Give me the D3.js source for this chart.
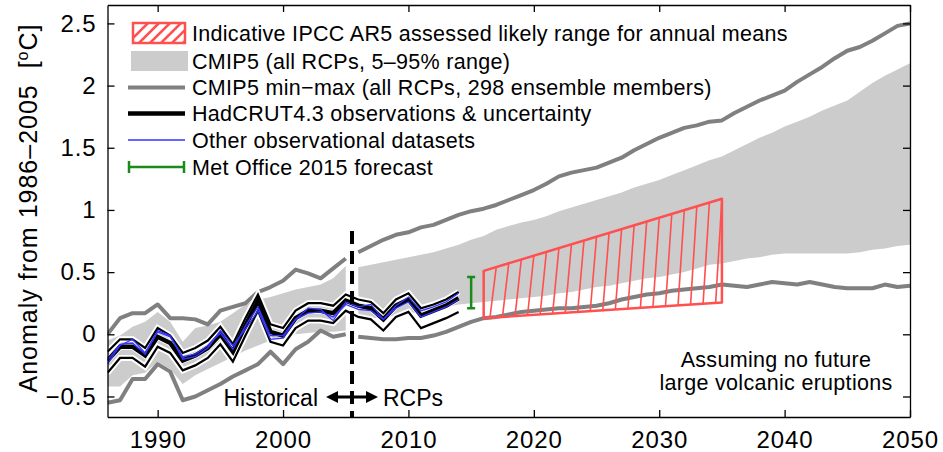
<html>
<head>
<script src="https://d3js.org/d3.v7.min.js"></script>
<style>
body{margin:0;background:#fff;}
text{font-family:"Liberation Sans",Arial,sans-serif;fill:#000;}
.axis path,.axis line{stroke:#000;stroke-width:1.3;}
.axis text{font-size:24px;letter-spacing:0.9px;}
.leg text{font-size:21.5px;letter-spacing:0.3px;}
</style>
</head>
<body>
<script>
var width = 943, height = 452;

// CMIP5 historical runs, 1986-2005
var histYears = d3.range(1986, 2006);
var histLo  = [-0.42,-0.42,-0.33,-0.31,-0.22,-0.28,-0.40,-0.33,-0.28,-0.23,-0.18,-0.13,-0.09,-0.05,-0.02,0.00,0.01,0.02,0.02,0.03];
var histHi  = [-0.05,-0.01,0.06,0.10,0.18,0.10,-0.06,0.05,0.07,0.10,0.17,0.24,0.28,0.30,0.33,0.36,0.38,0.40,0.45,0.55];
var histMin = [-0.55,-0.53,-0.36,-0.36,-0.24,-0.30,-0.53,-0.50,-0.45,-0.40,-0.34,-0.29,-0.24,-0.14,-0.24,-0.12,-0.06,0.03,-0.02,0.00];
var histMax = [0.00,0.13,0.17,0.17,0.24,0.13,0.13,0.12,0.08,0.19,0.22,0.25,0.34,0.38,0.43,0.52,0.49,0.45,0.53,0.61];

// CMIP5 RCP runs, 2006-2050
var rcpYears = d3.range(2006, 2051);
var rcpLo  = [0.12,0.13,0.14,0.15,0.17,0.18,0.20,0.22,0.24,0.25,
              0.26,0.27,0.28,0.29,0.30,0.31,0.33,0.34,0.36,0.38,
              0.39,0.41,0.43,0.45,0.46,0.48,0.50,0.53,0.56,0.57,
              0.59,0.61,0.62,0.64,0.65,0.65,0.65,0.65,0.65,0.65,
              0.66,0.68,0.69,0.71,0.72];
var rcpHi  = [0.54,0.56,0.58,0.60,0.62,0.64,0.66,0.69,0.72,0.76,
              0.79,0.84,0.87,0.90,0.92,0.95,0.99,1.02,1.05,1.08,
              1.11,1.14,1.18,1.21,1.24,1.28,1.32,1.36,1.40,1.43,
              1.48,1.53,1.58,1.62,1.67,1.71,1.75,1.80,1.84,1.88,
              1.95,2.02,2.08,2.13,2.18];
var rcpMin = [-0.02,-0.03,-0.04,-0.04,-0.03,-0.03,-0.01,0.02,0.06,0.10,
              0.13,0.14,0.16,0.18,0.19,0.20,0.21,0.21,0.22,0.23,
              0.25,0.28,0.30,0.32,0.33,0.35,0.36,0.37,0.38,0.40,
              0.39,0.38,0.40,0.42,0.41,0.40,0.42,0.40,0.38,0.37,
              0.37,0.37,0.40,0.38,0.39];
var rcpMax = [0.66,0.71,0.76,0.80,0.82,0.86,0.88,0.92,0.96,0.99,
              1.01,1.04,1.08,1.12,1.16,1.21,1.27,1.30,1.32,1.34,
              1.38,1.42,1.48,1.53,1.58,1.62,1.66,1.68,1.71,1.72,
              1.78,1.83,1.88,1.92,1.96,2.03,2.09,2.15,2.22,2.28,
              2.31,2.36,2.42,2.48,2.50];

// observations, 1986-2014
var obsYears = d3.range(1986, 2015);
var hadcrut  = [-0.21,-0.10,-0.10,-0.17,-0.02,-0.07,-0.21,-0.17,-0.11,0.00,-0.14,0.07,0.27,0.02,-0.01,0.13,0.19,0.19,0.17,0.27,0.23,0.21,0.12,0.23,0.28,0.15,0.19,0.23,0.29];
var hadUpper = [-0.14,-0.04,-0.04,-0.11,0.05,-0.01,-0.15,-0.11,-0.05,0.06,-0.08,0.13,0.32,0.08,0.05,0.19,0.25,0.25,0.23,0.32,0.28,0.26,0.17,0.28,0.33,0.21,0.24,0.28,0.34];
var hadLower = [-0.31,-0.19,-0.19,-0.26,-0.10,-0.15,-0.29,-0.25,-0.19,-0.08,-0.22,-0.01,0.19,-0.06,-0.09,0.05,0.11,0.11,0.09,0.19,0.14,0.12,0.03,0.14,0.18,0.05,0.09,0.13,0.18];
var gistemp  = [-0.24,-0.09,-0.04,-0.15,0.03,-0.01,-0.20,-0.18,-0.11,0.03,-0.09,0.04,0.19,-0.04,-0.03,0.12,0.21,0.20,0.11,0.26,0.22,0.24,0.12,0.23,0.30,0.19,0.22,0.26,0.33];
var noaa     = [-0.21,-0.08,-0.07,-0.16,0.02,-0.02,-0.18,-0.16,-0.09,0.01,-0.12,0.07,0.22,-0.01,-0.01,0.12,0.17,0.18,0.14,0.24,0.20,0.19,0.12,0.21,0.26,0.14,0.18,0.22,0.28];

// IPCC AR5 likely range and Met Office forecast
var ipccYears = [2016, 2035];
var ipccLo = [0.13, 0.255];
var ipccHi = [0.51, 1.09];
var metYear = 2015;
var metRange = [0.21, 0.46];
var splitYear = 2005.5;

var xTicks = [1990, 2000, 2010, 2020, 2030, 2040, 2050];
var yTicks = [-0.5, 0, 0.5, 1, 1.5, 2, 2.5];
var yTickLabels = ["\u22120.5", "0", "0.5", "1", "1.5", "2", "2.5"];

var legendLabels = [
  "Indicative IPCC AR5 assessed likely range for annual means",
  "CMIP5 (all RCPs, 5\u201395% range)",
  "CMIP5 min\u2212max (all RCPs, 298 ensemble members)",
  "HadCRUT4.3 observations & uncertainty",
  "Other observational datasets",
  "Met Office 2015 forecast"
];

var red = "#ff5050", grey = "#cccccc", dark = "#808080", blue = "#3333ff", green = "#1a8a1a";

var svg = d3.select("body").append("svg")
  .attr("width", width)
  .attr("height", height);

var x = d3.scaleLinear().domain([1986, 2050]).range([107.5, 910]);
var y = d3.scaleLinear().domain([-0.665, 2.648]).range([417, 5]);

svg.append("clipPath").attr("id", "plot")
  .append("rect").attr("x", 107.5).attr("y", 5).attr("width", 802.5).attr("height", 412);

var plot = svg.append("g").attr("clip-path", "url(#plot)");

function zip(years, a, b) {
  return years.map(function(t, i){ return {t: t, a: a[i], b: b ? b[i] : null}; });
}

var area = d3.area().x(function(d){ return x(d.t); })
  .y0(function(d){ return y(d.a); }).y1(function(d){ return y(d.b); });
var line = d3.line().x(function(d){ return x(d.t); }).y(function(d){ return y(d.a); });

// 5-95% bands
plot.append("path").datum(zip(histYears, histLo, histHi)).attr("d", area).attr("fill", grey);
plot.append("path").datum(zip(rcpYears, rcpLo, rcpHi)).attr("d", area).attr("fill", grey);

// min-max lines
[[histYears, histMin], [histYears, histMax], [rcpYears, rcpMin], [rcpYears, rcpMax]].forEach(function(s){
  plot.append("path").datum(zip(s[0], s[1])).attr("d", line)
    .attr("fill", "none").attr("stroke", dark).attr("stroke-width", 4)
    .attr("stroke-linejoin", "round");
});

// observations
[hadUpper, hadLower, hadcrut].forEach(function(s){
  plot.append("path").datum(zip(obsYears, s)).attr("d", line)
    .attr("fill", "none").attr("stroke", "#fff").attr("stroke-width", 6);
});
[hadUpper, hadLower].forEach(function(s){
  plot.append("path").datum(zip(obsYears, s)).attr("d", line)
    .attr("fill", "none").attr("stroke", "#000").attr("stroke-width", 2.2);
});
plot.append("path").datum(zip(obsYears, hadcrut)).attr("d", line)
  .attr("fill", "none").attr("stroke", "#000").attr("stroke-width", 4.5);
[gistemp, noaa].forEach(function(s){
  plot.append("path").datum(zip(obsYears, s)).attr("d", line)
    .attr("fill", "none").attr("stroke", blue).attr("stroke-width", 1.3);
});

// historical / RCP split
plot.append("line")
  .attr("x1", x(splitYear)).attr("x2", x(splitYear))
  .attr("y1", y(0.83)).attr("y2", y(-0.665))
  .attr("stroke", "#000").attr("stroke-width", 4).attr("stroke-dasharray", "13,7");

// IPCC hatched trapezoid
var lo = d3.scaleLinear().domain(ipccYears).range(ipccLo);
var hi = d3.scaleLinear().domain(ipccYears).range(ipccHi);
var hatch = d3.range(ipccYears[0] + 0.5, ipccYears[1], 1);
plot.selectAll(".hatch").data(hatch).enter().append("line")
  .attr("x1", function(t){ return x(t); })
  .attr("y1", function(t){ return y(lo(t)); })
  .attr("x2", function(t){ return x(t + 0.5); })
  .attr("y2", function(t){ return y(hi(t + 0.5)); })
  .attr("stroke", red).attr("stroke-width", 1.6);
plot.append("path")
  .attr("d", "M" + [[x(ipccYears[0]), y(ipccLo[0])], [x(ipccYears[0]), y(ipccHi[0])],
                    [x(ipccYears[1]), y(ipccHi[1])], [x(ipccYears[1]), y(ipccLo[1])]].join("L") + "Z")
  .attr("fill", "none").attr("stroke", red).attr("stroke-width", 2.5).attr("stroke-linejoin", "round");

// Met Office forecast
var mx = x(metYear);
plot.append("path")
  .attr("d", "M" + (mx - 4) + "," + y(metRange[0]) + "H" + (mx + 4) +
             "M" + mx + "," + y(metRange[0]) + "V" + y(metRange[1]) +
             "M" + (mx - 4) + "," + y(metRange[1]) + "H" + (mx + 4))
  .attr("fill", "none").attr("stroke", green).attr("stroke-width", 2.5);

// axes
svg.append("g").attr("class", "axis").attr("transform", "translate(0,417)")
  .call(d3.axisBottom(x).tickValues(xTicks).tickFormat(d3.format("d"))
    .tickSizeInner(-7).tickSizeOuter(0).tickPadding(14));
svg.append("g").attr("class", "axis").attr("transform", "translate(0,5)")
  .call(d3.axisTop(x).tickValues(xTicks).tickFormat("").tickSizeInner(-7).tickSizeOuter(0));
svg.append("g").attr("class", "axis").attr("transform", "translate(107.5,0)")
  .call(d3.axisLeft(y).tickValues(yTicks).tickFormat(function(d, i){ return yTickLabels[i]; })
    .tickSizeInner(-7).tickSizeOuter(0).tickPadding(11));
svg.append("g").attr("class", "axis").attr("transform", "translate(910,0)")
  .call(d3.axisRight(y).tickValues(yTicks).tickFormat("").tickSizeInner(-7).tickSizeOuter(0));

// y label
var yl = svg.append("text")
  .attr("transform", "translate(37,208) rotate(-90)")
  .attr("text-anchor", "middle")
  .style("font-size", "25px")
  .style("letter-spacing", "1px");
yl.append("tspan").text("Anomaly from 1986\u20132005\u00a0\u00a0[");
yl.append("tspan").attr("dy", -9).style("font-size", "16px").text("o");
yl.append("tspan").attr("dy", 9).text("C]");

// annotations
svg.append("text").attr("x", 318).attr("y", 406).attr("text-anchor", "end")
  .style("font-size", "23px").text("Historical");
svg.append("text").attr("x", 383).attr("y", 406)
  .style("font-size", "23px").text("RCPs");
var ax = x(splitYear);
svg.append("path")
  .attr("d", "M" + (ax - 16) + ",397H" + (ax + 16))
  .attr("stroke", "#000").attr("stroke-width", 3);
svg.append("path")
  .attr("d", "M" + (ax - 26) + ",397L" + (ax - 14) + ",391V403Z" +
             "M" + (ax + 26) + ",397L" + (ax + 14) + ",391V403Z")
  .attr("fill", "#000");

var note = svg.append("text").attr("text-anchor", "middle")
  .style("font-size", "21.5px").style("letter-spacing", "0.3px");
note.append("tspan").attr("x", 776).attr("y", 367).text("Assuming no future");
note.append("tspan").attr("x", 776).attr("y", 390).text("large volcanic eruptions");

// legend
var leg = svg.append("g").attr("class", "leg");
var rowY = [33, 61, 87.5, 113.5, 140, 167];
leg.selectAll("text").data(legendLabels).enter().append("text")
  .attr("x", 192).attr("y", function(d, i){ return rowY[i] + 7.5; })
  .text(function(d){ return d; });

leg.append("clipPath").attr("id", "lbox")
  .append("rect").attr("x", 133).attr("y", 23).attr("width", 52).attr("height", 20);
leg.append("g").attr("clip-path", "url(#lbox)")
  .selectAll("line").data(d3.range(0, 6)).enter().append("line")
  .attr("x1", function(i){ return 128 + i * 11; }).attr("y1", 43)
  .attr("x2", function(i){ return 148 + i * 11; }).attr("y2", 23)
  .attr("stroke", red).attr("stroke-width", 2.5);
leg.append("rect").attr("x", 133).attr("y", 23).attr("width", 52).attr("height", 20)
  .attr("fill", "none").attr("stroke", red).attr("stroke-width", 2.5);
leg.append("rect").attr("x", 131).attr("y", 51).attr("width", 57).attr("height", 20).attr("fill", grey);
leg.append("line").attr("x1", 128).attr("x2", 185).attr("y1", rowY[2]).attr("y2", rowY[2])
  .attr("stroke", dark).attr("stroke-width", 4);
leg.append("line").attr("x1", 128).attr("x2", 185).attr("y1", rowY[3]).attr("y2", rowY[3])
  .attr("stroke", "#000").attr("stroke-width", 4.5);
leg.append("line").attr("x1", 128).attr("x2", 185).attr("y1", rowY[4]).attr("y2", rowY[4])
  .attr("stroke", blue).attr("stroke-width", 1.3);
leg.append("path")
  .attr("d", "M129," + (rowY[5] - 6) + "V" + (rowY[5] + 6) + "M129," + rowY[5] + "H184" +
             "M184," + (rowY[5] - 6) + "V" + (rowY[5] + 6))
  .attr("fill", "none").attr("stroke", green).attr("stroke-width", 2.5);
</script>
</body>
</html>
